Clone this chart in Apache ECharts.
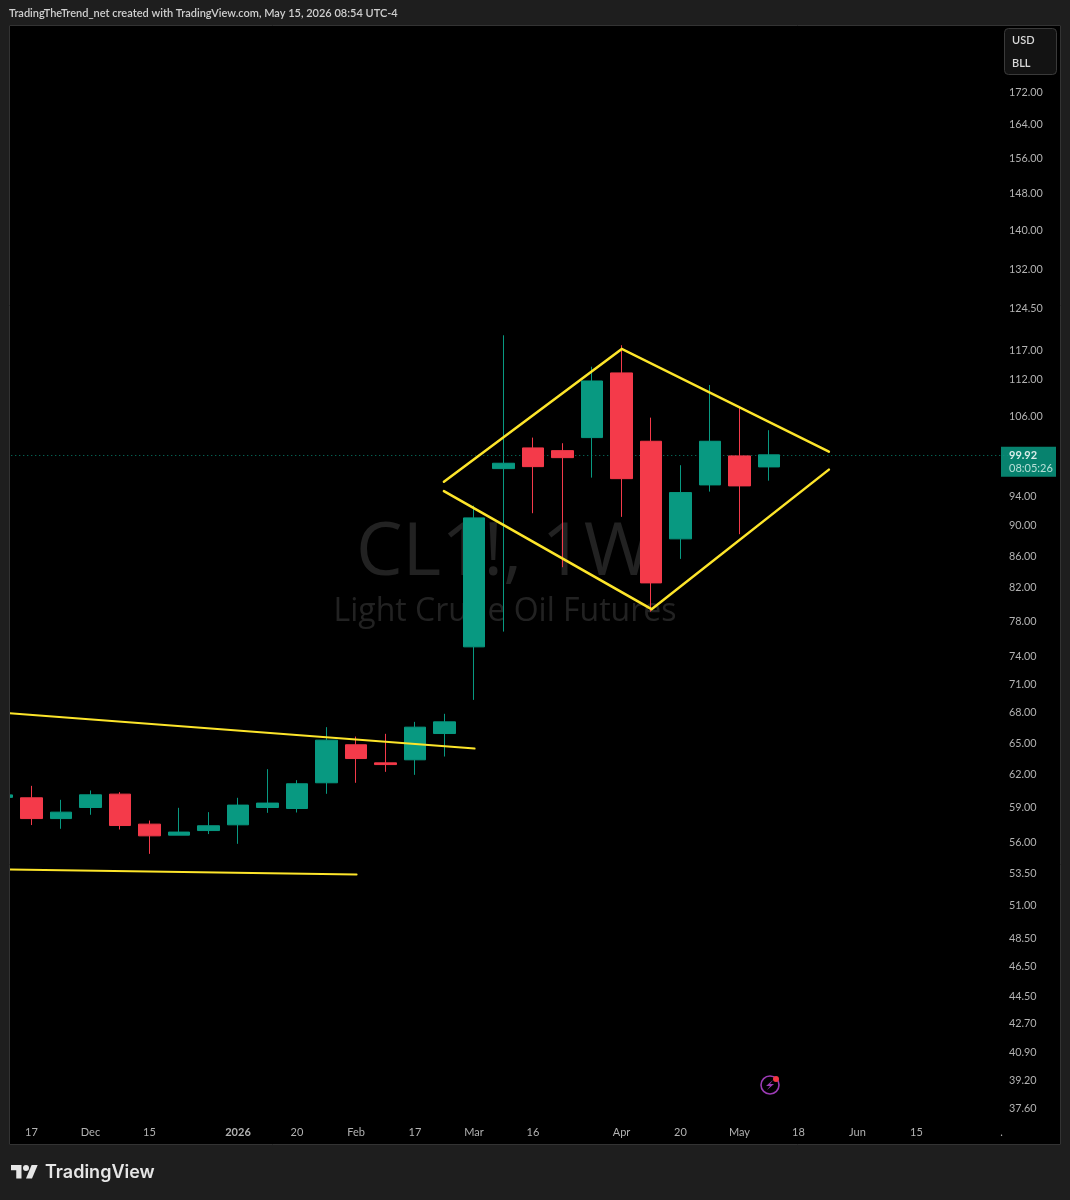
<!DOCTYPE html>
<html><head><meta charset="utf-8">
<style>html,body{margin:0;padding:0;background:#1e1e1e}#c{width:1070px;height:1200px}</style>
<script src="https://cdn.jsdelivr.net/npm/echarts@6/dist/echarts.min.js"></script>
</head><body><div id="c"></div>
<script>
// weekly session labels (first is the partial candle at the left edge)
const categories = ['', '17', '', 'Dec', '', '15', '', '', '2026', '', '20', '', 'Feb', '', '17', '', 'Mar', '', '16', '', '', 'Apr', '', '20', '', 'May', '', '18', '', 'Jun', '', '15', '', '', '.'];
const opens  = [59.84,59.80,57.97,58.94,60.13,57.49,56.55,56.94,57.43,58.94,58.85,61.16,64.74,63.01,63.30,65.84,74.96,97.88,100.96,100.55,102.53,112.95,101.97,88.11,95.52,99.76,98.13];
const closes = [60.06,57.97,58.53,60.07,57.37,56.49,56.81,57.35,59.15,59.33,61.07,65.19,63.42,62.85,66.47,67.00,90.92,98.67,98.17,99.50,111.60,96.42,82.49,94.43,101.97,95.38,99.92];
const lows   = [59.84,57.41,57.09,58.30,57.03,54.99,56.55,56.64,55.82,58.47,58.50,60.16,61.16,62.17,61.89,63.61,69.24,76.69,91.56,84.45,96.57,91.06,79.02,85.51,94.57,88.73,96.13];
const highs  = [60.06,60.88,59.62,60.46,60.31,57.80,58.91,58.53,59.80,62.42,61.40,66.47,65.54,65.81,67.00,67.81,92.60,119.50,102.53,101.67,114.00,117.73,105.64,98.38,110.93,107.50,103.67];
const priceTicks = [172,164,156,148,140,132,124.5,117,112,106,94,90,86,82,78,74,71,68,65,62,59,56,53.5,51,48.5,46.5,44.5,42.7,40.9,39.2,37.6];
const lastPrice = 99.92;
const countdown = '08:05:26';
// trendlines: [candle position, price]; position 0 is the first category
const trendUpper = [[0.26,67.88],[16.02,64.37]];
const trendLower = [[0.26,53.71],[12.02,53.32]];
const diamondTop = [[14.98,95.99],[21.01,117.08],[28.03,100.40]];
const diamondBottom = [[14.98,94.63],[22.02,79.31],[28.03,97.73]];

const UP='#089981', DOWN='#F43A4A', YEL='#FDE52A', FONT='Lato,"Open Sans",sans-serif', WM='"Open Sans","Noto Sans",sans-serif';
const candles = opens.map((o,i)=>[o,closes[i],lows[i],highs[i]]);
const trend = (name,data,w)=>({name,type:'line',xAxisIndex:1,yAxisIndex:0,data,symbol:'none',silent:true,
  animation:false,z:4,lineStyle:{color:YEL,width:w,cap:'round',join:'miter'}});

const chart = echarts.init(document.getElementById('c'),null,{renderer:'canvas',width:1070,height:1200});
const BG='#1e1e1e', EDGE='#333333';
chart.setOption({
  animation:false,
  backgroundColor:'#000000',
  grid:{left:-12.75,top:26,width:1032.5,height:1094,containLabel:false,outerBoundsMode:'none'},
  xAxis:[
    {type:'category',data:categories,boundaryGap:true,axisLine:{show:false},axisTick:{show:false},splitLine:{show:false},
     axisLabel:{show:true,interval:0,hideOverlap:false,margin:7,fontFamily:FONT,fontSize:11,color:'#b2b2b2',
       formatter:v=>v==='2026'?'{y|2026}':(v==='.'?'{d|.}':v),
       rich:{y:{fontFamily:FONT,fontSize:11,fontWeight:700,color:'#b2b2b2'},d:{fontFamily:FONT,fontSize:11,color:'#b2b2b2',padding:[0,7,0,0]}}}},
    {type:'value',show:false,min:-0.5,max:34.5,splitLine:{show:false}}
  ],
  yAxis:[{type:'log',logBase:10,min:36.92,max:189.85,position:'right',offset:-10.75,
    axisLine:{show:false},axisTick:{show:false},splitLine:{show:false},minorTick:{show:false},
    axisLabel:{show:true,margin:0,align:'left',customValues:priceTicks,fontFamily:FONT,fontSize:10.8,color:'#b2b2b2',
      showMinLabel:true,showMaxLabel:true,formatter:v=>'{p|'+Number(v).toFixed(2)+'}',
      rich:{p:{fontFamily:FONT,fontSize:10.8,color:'#b2b2b2',padding:[2,0,0,0]}}}}],
  graphic:{elements:[
    // watermark behind the candles
    {type:'text',z:0,silent:true,style:{x:504,y:554,text:'CL1!, 1W',align:'center',verticalAlign:'middle',font:'74px '+WM,fill:'#222222'}},
    {type:'text',z:0,silent:true,style:{x:505,y:612,text:'Light Crude Oil Futures',align:'center',verticalAlign:'middle',font:'32px '+WM,fill:'#222222'}},
    // outer frame
    {type:'rect',z:100,silent:true,shape:{x:0,y:0,width:1070,height:25},style:{fill:BG}},
    {type:'rect',z:100,silent:true,shape:{x:0,y:1145,width:1070,height:55},style:{fill:BG}},
    {type:'rect',z:100,silent:true,shape:{x:0,y:0,width:9,height:1200},style:{fill:BG}},
    {type:'rect',z:100,silent:true,shape:{x:1061,y:0,width:9,height:1200},style:{fill:BG}},
    {type:'rect',z:101,silent:true,shape:{x:9.5,y:25.5,width:1051,height:1119},style:{fill:null,stroke:EDGE,lineWidth:1}},
    {type:'text',z:102,silent:true,style:{x:9,y:13,text:'TradingTheTrend_net created with TradingView.com, May 15, 2026 08:54 UTC-4',verticalAlign:'middle',font:'600 11px '+FONT,fill:'#cfcfcf'}},
    // currency / unit box
    {type:'rect',z:102,silent:true,shape:{x:1004.5,y:28.5,width:52,height:46,r:4},style:{fill:'#131313',stroke:'#3a3a3a',lineWidth:1}},
    {type:'text',z:103,silent:true,style:{x:1012,y:40,text:'USD',verticalAlign:'middle',font:'600 11px '+FONT,fill:'#d8d8d8'}},
    {type:'text',z:103,silent:true,style:{x:1012,y:63.5,text:'BLL',verticalAlign:'middle',font:'600 11px '+FONT,fill:'#d8d8d8'}},
    // TradingView logo
    {type:'polygon',z:102,silent:true,shape:{points:[[11,1165],[21.5,1165],[21.5,1178.5],[16.25,1178.5],[16.25,1170.25],[11,1170.25]]},style:{fill:'#e6e6e6'}},
    {type:'polygon',z:102,silent:true,shape:{points:[[31.6,1165],[37.7,1165],[32,1178.5],[26,1178.5]]},style:{fill:'#e6e6e6'}},
    {type:'circle',z:102,silent:true,shape:{cx:26,cy:1168,r:3},style:{fill:'#e6e6e6'}},
    {type:'text',z:102,silent:true,style:{x:45,y:1173,text:'TradingView',verticalAlign:'middle',font:'600 18px Inter,'+WM,fill:'#e6e6e6'}},
    // bolt icon
    {type:'circle',z:102,silent:true,shape:{cx:770,cy:1085,r:9},style:{fill:null,stroke:'#9C3BB5',lineWidth:1.6}},
    {type:'polygon',z:102,silent:true,shape:{points:[[773,1080],[766,1086],[770,1086],[767,1090],[774,1084],[770,1084]]},style:{fill:'#9C3BB5'}},
    {type:'circle',z:103,silent:true,shape:{cx:776,cy:1079,r:3},style:{fill:'#F23645'}}
  ]},
  series:[
    {name:'Last',type:'line',data:[],z:1,silent:true,xAxisIndex:0,yAxisIndex:0,
      markLine:{silent:true,symbol:'none',animation:false,z:1,
        lineStyle:{color:UP,type:[1,3],width:1,opacity:0.85},
        label:{show:true,position:'end',distance:-18.75,offset:[0,7],
          backgroundColor:UP,padding:[2,5,2,8],
          formatter:()=>'{a|'+lastPrice.toFixed(2)+'}\n{b|'+countdown+'}',
          rich:{a:{fontFamily:FONT,fontSize:11,fontWeight:700,color:'#fff',lineHeight:13,width:42},
                b:{fontFamily:FONT,fontSize:11,color:'#d5efe9',lineHeight:13,width:42}}},
        data:[{yAxis:lastPrice}]}},
    {name:'CL1!',type:'candlestick',data:candles,xAxisIndex:0,yAxisIndex:0,z:3,barWidth:22,silent:true,
      itemStyle:{color:UP,color0:DOWN,borderColor:UP,borderColor0:DOWN,borderWidth:1}},
    trend('Channel upper',trendUpper,2),
    trend('Channel lower',trendLower,2),
    trend('Diamond top',diamondTop,2.5),
    trend('Diamond bottom',diamondBottom,2.5)
  ]
});
</script></body></html>
